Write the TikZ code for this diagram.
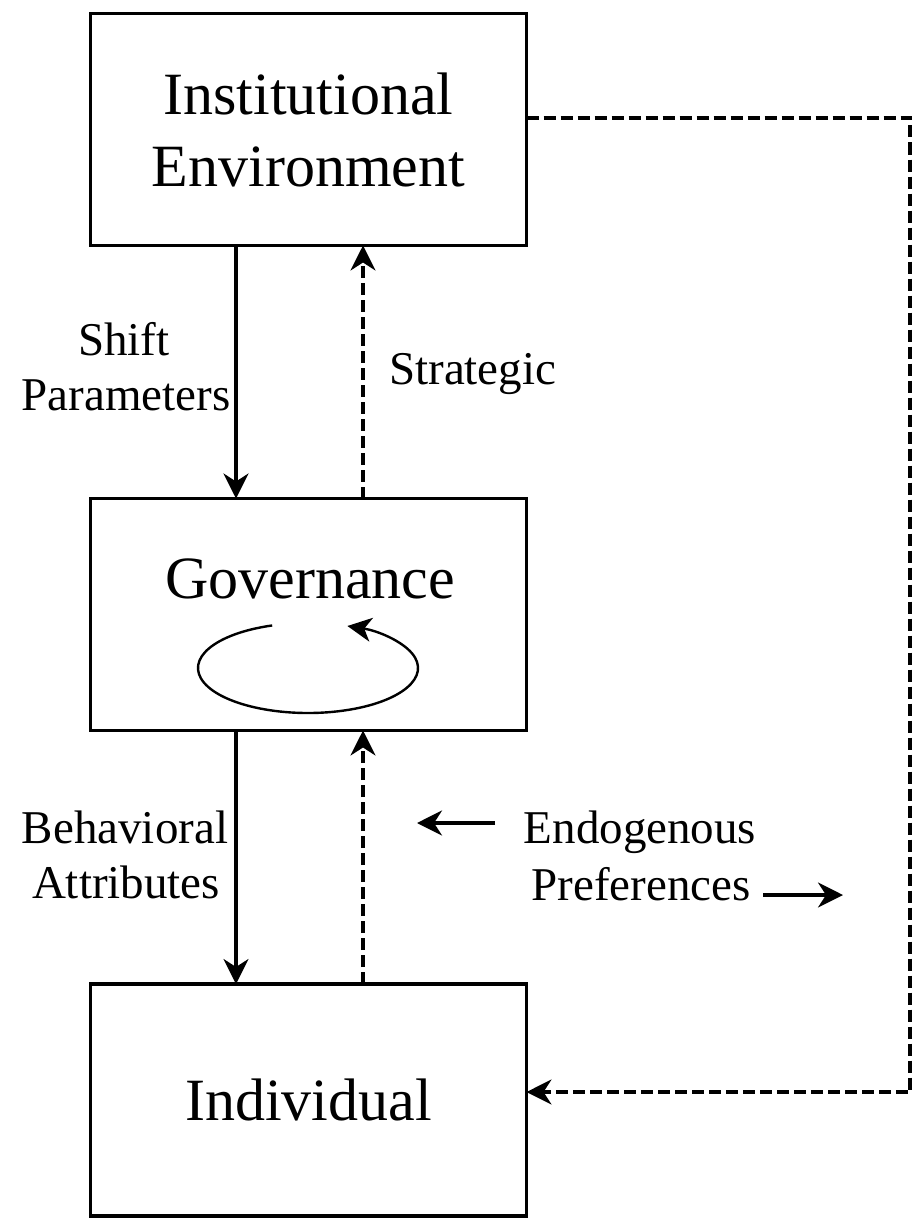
\documentclass[tikz,border=0pt]{standalone}
\usepackage{fontspec}
\setmainfont{Liberation Serif}
\usetikzlibrary{arrows.meta,calc}
\begin{document}
\begin{tikzpicture}[x=1pt,y=-1pt,
  box/.style={draw,line width=3.6pt,minimum width=436pt,minimum height=232pt,inner sep=0pt,outer sep=0pt,align=center,font=\fontsize{60}{72}\selectfont},
  big/.style={inner sep=0pt,font=\fontsize{60}{72}\selectfont},
  lbl/.style={inner sep=0pt,align=center,font=\fontsize{47}{55}\selectfont},
  tip/.style={-{Stealth[length=25pt,width=25pt,inset=8pt]}},
  solidarrow/.style={tip,line width=3.4pt},
  dasharrow/.style={tip,line width=3.2pt,dash pattern=on 12pt off 5pt},
  loop/.style={line width=2.4pt}]
\useasboundingbox (0,0) rectangle (916,1220);
\fill[white] (0,0) rectangle (916,1220);
% boxes
\node[box] (ie) at (308.5,129.5) {Institutional\\Environment};
\node[box] (gov) at (308.5,614.5) {};
\node[big,anchor=base] (govt) at (310,598) {Governance};
\node[box] (ind) at (308.5,1100) {Individual};
% x positions of vertical connectors
\coordinate (xs) at (236,0);
\coordinate (xd) at (363,0);
% vertical connectors
\draw[solidarrow] (ie.south -| xs) -- (gov.north -| xs);
\draw[dasharrow] (gov.north -| xd) -- (ie.south -| xd);
\draw[solidarrow] (gov.south -| xs) -- (ind.north -| xs);
\draw[dasharrow] (ind.north -| xd) -- (gov.south -| xd);
% feedback loop on the right
\coordinate (fbtop) at (910,118);
\coordinate (fbbot) at (910,1092);
\draw[dasharrow] (ie.east |- fbtop) -- (fbtop) -- (fbbot) -- (ind.east |- fbbot);
% governance loop
\coordinate (lc) at (308,668);
\draw[loop,-{Stealth[length=24pt,width=24pt,inset=7pt]}] ($(lc)+(251:110 and 45)$) arc[start angle=251,end angle=-69,x radius=110,y radius=45];
% labels
\node[lbl,anchor=base] (shift) at (124,355) {Shift};
\node[lbl,anchor=base] (param) at (126,410) {Parameters};
\node[lbl,anchor=base west] (strat) at (389,384) {Strategic};
\node[lbl,anchor=base] (behav) at (125,843) {Behavioral};
\node[lbl,anchor=base] (attr) at (126,898) {Attributes};
\node[lbl,anchor=base] (endo) at (640,843) {Endogenous};
\node[lbl,anchor=base] (pref) at (641,900) {Preferences};
% endogenous preference arrows
\coordinate (la) at (495,823);
\coordinate (lt) at (417,823);
\coordinate (ra) at (763,895);
\coordinate (rt) at (843,895);
\draw[solidarrow] (la) -- (lt);
\draw[solidarrow] (ra) -- (rt);
\end{tikzpicture}
\end{document}
